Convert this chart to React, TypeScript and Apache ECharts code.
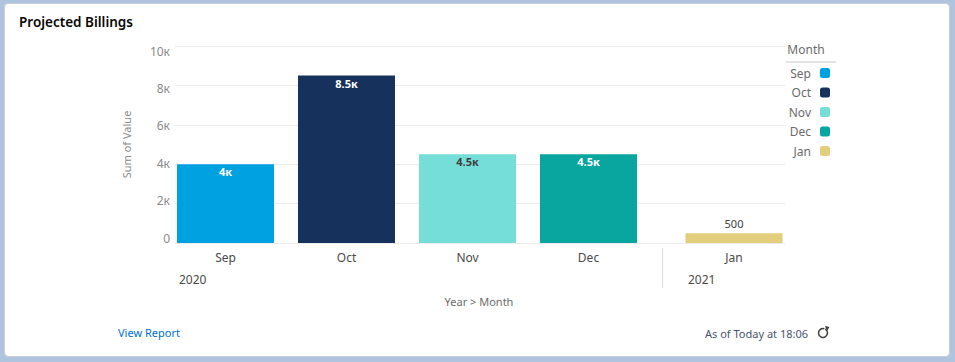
import React, { useEffect, useRef } from "react";
import * as echarts from "echarts";

const months2020 = ["Sep", "Oct", "Nov", "Dec"];
const months2021 = ["Jan"];
const seriesNames = ["Sep", "Oct", "Nov", "Dec", "Jan"];
const values = [4000, 8500, 4500, 4500, 500];
const colors = ["#00a1e0", "#16325c", "#76ded9", "#08a69e", "#e2ce7d"];
const labelColors = ["#ffffff", "#ffffff", "#3e3e3c", "#ffffff", "#3e3e3c"];
const yTicks = [0, 2000, 4000, 6000, 8000, 10000];
const years = ["2020", "2021"];

const FONT = "'Noto Sans', 'Open Sans', sans-serif";

function fmtK(v: number): string {
  if (v === 0) return "0";
  if (v < 1000) return String(v);
  return String(v / 1000) + "к";
}

export default function App() {
  const ref = useRef<HTMLDivElement>(null);
  useEffect(() => {
    if (!ref.current) return;
    const chart = echarts.init(ref.current, null, { renderer: "svg" });
    const TOP = 46;
    const H = 197;
    const yMax = yTicks[yTicks.length - 1];
    const yBase = {
      type: "value" as const,
      min: 0,
      max: yMax,
      interval: 2000,
    };
    const series: any[] = seriesNames.map((name, i) => {
      const is2021 = i >= months2020.length;
      const data = is2021
        ? months2021.map((m) => (m === name ? values[i] : "-"))
        : months2020.map((m) => (m === name ? values[i] : "-"));
      return {
        name,
        type: "bar",
        xAxisIndex: is2021 ? 2 : 1,
        yAxisIndex: is2021 ? 2 : 1,
        stack: is2021 ? "b" : "a",
        barWidth: 97,
        data,
        itemStyle: { color: colors[i] },
        label: {
          show: true,
          position: is2021 ? "top" : "insideTop",
          distance: is2021 ? 4 : 2,
          color: labelColors[i],
          fontFamily: FONT,
          fontSize: 11,
          fontWeight: is2021 ? "normal" : "bold",
          formatter: (p: any) => fmtK(p.value),
        },
      };
    });
    chart.setOption({
      animation: false,
      textStyle: { fontFamily: FONT },
      grid: [
        { left: 175, width: 610, top: TOP, height: H },
        { left: 165, width: 484, top: TOP, height: H },
        { left: 673.5, width: 121, top: TOP, height: H },
        { left: 175, width: 610, top: 51, height: 187 },
      ],
      xAxis: [
        { type: "category", gridIndex: 0, data: ["x"], show: false },
        {
          type: "category",
          gridIndex: 1,
          data: months2020,
          axisLine: { show: false },
          axisTick: { show: false },
          axisLabel: { color: "#4a4a4a", fontSize: 12, margin: 8, fontFamily: FONT },
        },
        {
          type: "category",
          gridIndex: 2,
          data: months2021,
          axisLine: { show: false },
          axisTick: { show: false },
          axisLabel: { color: "#4a4a4a", fontSize: 12, margin: 8, fontFamily: FONT },
        },
        { type: "category", gridIndex: 3, data: ["x"], show: false },
      ],
      yAxis: [
        {
          ...yBase,
          gridIndex: 0,
          axisLine: { show: false },
          axisTick: { show: false },
          axisLabel: { show: false },
          splitLine: { show: true, lineStyle: { color: "#ececec", width: 1 } },
        },
        { ...yBase, gridIndex: 1, show: false, splitLine: { show: false } },
        { ...yBase, gridIndex: 2, show: false, splitLine: { show: false } },
        {
          ...yBase,
          gridIndex: 3,
          name: "Sum of Value",
          nameLocation: "middle",
          nameGap: 43,
          nameTextStyle: { color: "#8a8a8a", fontSize: 11, fontFamily: FONT },
          axisLine: { show: false },
          axisTick: { show: false },
          splitLine: { show: false },
          axisLabel: {
            color: "#8a8a8a",
            fontSize: 12,
            margin: 5,
            fontFamily: FONT,
            formatter: (v: number) => fmtK(v),
          },
        },
      ],
      legend: {
        data: seriesNames,
        orient: "vertical",
        right: 120,
        top: 62,
        align: "right",
        itemWidth: 10,
        itemHeight: 10,
        itemGap: 7.5,
        icon: "roundRect",
        selectedMode: false,
        textStyle: { color: "#6b6b6b", fontSize: 12, fontFamily: FONT, padding: [0, 4, 0, 0] },
      },
      series,
      graphic: [
        {
          type: "rect",
          z: -10,
          silent: true,
          shape: { x: 0, y: 0, width: 955, height: 362 },
          style: { fill: "#b0c4df" },
        },
        {
          type: "rect",
          z: -9,
          silent: true,
          shape: { x: 4.5, y: 3.5, width: 945, height: 353, r: 4 },
          style: { fill: "#ffffff", stroke: "#c9ced6", lineWidth: 1 },
        },
        {
          type: "text",
          x: 19,
          y: 22,
          style: {
            text: "Projected Billings",
            fill: "#080707",
            font: "600 13.5px " + FONT,
            verticalAlign: "middle",
          },
        },
        {
          type: "text",
          x: 806,
          y: 49,
          style: {
            text: "Month",
            fill: "#6b6b6b",
            font: "12px " + FONT,
            align: "center",
            verticalAlign: "middle",
          },
        },
        {
          type: "line",
          shape: { x1: 786, y1: 62, x2: 836, y2: 62 },
          style: { stroke: "#c9c9c9", lineWidth: 1 },
        },
        {
          type: "text",
          x: 179,
          y: 279,
          style: { text: years[0], fill: "#4a4a4a", font: "12px " + FONT, verticalAlign: "middle" },
        },
        {
          type: "text",
          x: 688,
          y: 279,
          style: { text: years[1], fill: "#4a4a4a", font: "12px " + FONT, verticalAlign: "middle" },
        },
        {
          type: "line",
          shape: { x1: 662.5, y1: 248, x2: 662.5, y2: 288 },
          style: { stroke: "#dddddd", lineWidth: 1 },
        },
        {
          type: "text",
          x: 479,
          y: 301,
          style: {
            text: "Year > Month",
            fill: "#6b6b6b",
            font: "11px " + FONT,
            align: "center",
            verticalAlign: "middle",
          },
        },
        {
          type: "text",
          x: 118,
          y: 332,
          style: { text: "View Report", fill: "#0070d2", font: "11px " + FONT, verticalAlign: "middle" },
        },
        {
          type: "text",
          x: 808,
          y: 333,
          style: {
            text: "As of Today at 18:06",
            fill: "#4a5470",
            font: "11px " + FONT,
            align: "right",
            verticalAlign: "middle",
          },
        },
        {
          type: "arc",
          shape: { cx: 823, cy: 333, r: 4.5, startAngle: -Math.PI / 3, endAngle: Math.PI * 1.6 },
          style: { stroke: "#3e3e3c", lineWidth: 1.5, fill: "none" },
        },
        {
          type: "polygon",
          shape: { points: [[825, 326], [829.5, 327], [827, 331]] },
          style: { fill: "#3e3e3c" },
        },
      ],
    });
    return () => chart.dispose();
  }, []);
  return (
    <div
      ref={ref}
      style={{ position: "absolute", left: 0, top: 0, width: 955, height: 362 }}
    />
  );
}
